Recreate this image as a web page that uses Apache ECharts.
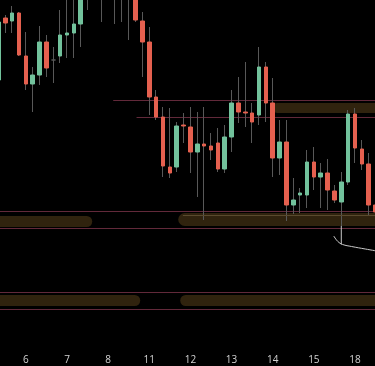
<!DOCTYPE html>
<html><head><meta charset="utf-8">
<script src="https://cdn.jsdelivr.net/npm/echarts@6/dist/echarts.min.js"></script>
<style>html,body{margin:0;padding:0;background:#000;overflow:hidden;width:375px;height:366px;position:relative;}
#c{position:absolute;left:-5px;top:0;width:384px;height:366px;}</style>
</head><body><div id="c"></div>
<script>
// 4-hour candles, categories "day hh:00"
const categories = [
 '5 08:00','5 12:00','5 16:00','5 20:00',
 '6 00:00','6 04:00','6 08:00','6 12:00','6 16:00','6 20:00',
 '7 00:00','7 04:00','7 08:00','7 12:00','7 16:00','7 20:00',
 '8 00:00','8 04:00','8 08:00','8 12:00','8 16:00','8 20:00',
 '11 00:00','11 04:00','11 08:00','11 12:00','11 16:00','11 20:00',
 '12 00:00','12 04:00','12 08:00','12 12:00','12 16:00','12 20:00',
 '13 00:00','13 04:00','13 08:00','13 12:00','13 16:00','13 20:00',
 '14 00:00','14 04:00','14 08:00','14 12:00','14 16:00','14 20:00',
 '15 00:00','15 04:00','15 08:00','15 12:00','15 16:00','15 20:00',
 '18 00:00','18 04:00','18 08:00','18 12:00'
];
const openP  = [1.0920,1.0982,1.0979,1.0987,1.0944,1.0916,1.0925,1.0958,1.0940,1.0944,
                1.0965,1.0967,1.0976,1.1030,1.1040,1.1025,1.1030,1.1020,1.1015,1.1020,
                1.1005,1.0979,1.0958,1.0903,1.0883,1.0833,1.0833,1.0875,1.0873,1.0848,
                1.0856,1.0854,1.0857,1.0831,1.0863,1.0897,1.0888,1.0887,1.0885,1.0933,
                1.0897,1.0842,1.0858,1.0795,1.0805,1.0805,1.0838,1.0823,1.0827,1.0809,
                1.0798,1.0818,1.0886,1.0851,1.0836,1.0795];
const closeP = [1.0978,1.0977,1.0987,1.0945,1.0916,1.0925,1.0958,1.0932,1.0940,1.0965,
                1.0967,1.0976,1.1020,1.1015,1.1025,1.1010,1.1015,1.1005,1.1005,1.1003,
                1.0980,1.0958,1.0903,1.0883,1.0834,1.0827,1.0874,1.0874,1.0848,1.0856,
                1.0854,1.0850,1.0831,1.0863,1.0897,1.0888,1.0887,1.0878,1.0933,1.0897,
                1.0842,1.0858,1.0795,1.0800,1.0807,1.0838,1.0823,1.0827,1.0810,1.0800,
                1.0818,1.0886,1.0852,1.0836,1.0795,1.0788];
const lowP   = [1.0915,1.0967,1.0967,1.0944,1.0910,1.0888,1.0915,1.0923,1.0917,1.0937,
                1.0942,1.0942,1.0953,1.0990,1.1005,1.0978,1.1003,1.0976,1.0978,1.0960,
                1.0978,1.0923,1.0885,1.0880,1.0823,1.0822,1.0828,1.0857,1.0827,1.0803,
                1.0780,1.0840,1.0828,1.0827,1.0848,1.0877,1.0873,1.0857,1.0875,1.0878,
                1.0823,1.0825,1.0779,1.0786,1.0787,1.0792,1.0810,1.0792,1.0790,1.0797,
                1.0774,1.0815,1.0837,1.0830,1.0784,1.0784];
const highP  = [1.0985,1.0985,1.0994,1.0988,1.0968,1.0933,1.0974,1.0965,1.0953,1.0990,
                1.1005,1.1005,1.1030,1.1040,1.1050,1.1035,1.1040,1.1030,1.1025,1.1030,
                1.1015,1.0988,1.0973,1.0910,1.0893,1.0892,1.0878,1.0887,1.0893,1.0888,
                1.0893,1.0867,1.0872,1.0875,1.0910,1.0923,1.0938,1.0897,1.0953,1.0938,
                1.0922,1.0880,1.0880,1.0822,1.0812,1.0850,1.0853,1.0837,1.0841,1.0815,
                1.0828,1.0890,1.0892,1.0860,1.0847,1.0800];

// horizontal levels: [startIndex, endIndex, price]
const levelStart = [-5, -5, -5, -5, 16.74, 20.14];
const levelEnd   = [60, 60, 60, 60, 60, 60];
const levelPrice = [1.0789, 1.0772, 1.0708, 1.0691, 1.0900, 1.0883];
// zones: [startIndex, endIndex, top price, bottom price]
const zoneStart  = [39.92, -5, 26.22, -5, 26.51];
const zoneEnd    = [60, 13.68, 60, 20.68, 60];
const zoneTop    = [1.0897, 1.0784, 1.0787, 1.0705, 1.0705];
const zoneBottom = [1.0887, 1.0773, 1.0774, 1.0694, 1.0694];
// highlighted edge inside the right-hand lower zone
const edgeX = [26.9, 60];
const edgeY = [1.07845, 1.07845];
// projection path
const pathX = [48.9, 49.5, 50.2, 51.5, 53.5, 55.6];
const pathY = [1.0764, 1.07585, 1.07555, 1.07535, 1.0751, 1.07485];
const stemX = [50, 50];
const stemY = [1.0774, 1.07555];

const candleData = categories.map((_, i) => [openP[i], closeP[i], lowP[i], highP[i]]);
const bodyData = categories.map((_, i) => [openP[i], closeP[i], Math.min(openP[i], closeP[i]), Math.max(openP[i], closeP[i])]);
const zoneData = zoneStart.map((s, i) => [s, zoneEnd[i], zoneTop[i], zoneBottom[i]]);
const levelData = levelStart.map((s, i) => [s, levelEnd[i], levelPrice[i]]);

const GREEN = '#72c29c', RED = '#e5604f', WICK = '#585858';
const N = categories.length;

const chart = echarts.init(document.getElementById('c'), null, {renderer: 'canvas'});
chart.setOption({
  animation: false,
  backgroundColor: '#000',
  grid: {left: 0, right: 0, top: 0, bottom: 20},
  xAxis: [
    {type: 'category', data: categories, boundaryGap: true,
     axisLine: {show: false}, axisTick: {show: false}, splitLine: {show: false},
     axisLabel: {color: '#d2d2d2', fontSize: 10, fontFamily: 'Open Sans', margin: 9,
       interval: (idx) => idx % 6 === 4,
       formatter: (v) => v.split(' ')[0]}},
    {type: 'value', min: -0.5, max: N - 0.5, show: false}
  ],
  yAxis: {type: 'value', min: 1.0654, max: 1.1000, show: false, splitLine: {show: false}},
  series: [
    {type: 'custom', xAxisIndex: 1, clip: true, data: zoneData,
     encode: {x: [0, 1], y: [2, 3]},
     renderItem: (params, api) => {
       const p1 = api.coord([api.value(0), api.value(2)]);
       const p2 = api.coord([api.value(1), api.value(3)]);
       const h = p2[1] - p1[1];
       return {type: 'rect', shape: {x: p1[0], y: p1[1], width: p2[0] - p1[0], height: h, r: h / 2},
               style: {fill: '#30230e'}};
     }},
    {type: 'custom', xAxisIndex: 1, clip: true, data: levelData,
     encode: {x: [0, 1], y: 2},
     renderItem: (params, api) => {
       const p1 = api.coord([api.value(0), api.value(2)]);
       const p2 = api.coord([api.value(1), api.value(2)]);
       const y = Math.round(p1[1]) + 0.5;
       return {type: 'line', shape: {x1: p1[0], y1: y, x2: p2[0], y2: y},
               style: {stroke: '#62293a', lineWidth: 1}};
     }},
    {type: 'line', xAxisIndex: 1, data: edgeX.map((x, i) => [x, edgeY[i]]), showSymbol: false,
     lineStyle: {color: '#5a4a2e', width: 1}},
    {type: 'candlestick', xAxisIndex: 0, data: candleData, barWidth: 1,
     itemStyle: {color: WICK, color0: WICK, borderColor: WICK, borderColor0: WICK, borderColorDoji: WICK, borderWidth: 1}},
    {type: 'candlestick', xAxisIndex: 0, data: bodyData, barWidth: 4,
     itemStyle: {color: GREEN, color0: RED, borderColor: GREEN, borderColor0: RED, borderColorDoji: WICK, borderWidth: 1}},
    {type: 'line', xAxisIndex: 1, data: stemX.map((x, i) => [x, stemY[i]]), showSymbol: false,
     lineStyle: {color: '#c8c8c8', width: 1}},
    {type: 'line', xAxisIndex: 1, data: pathX.map((x, i) => [x, pathY[i]]), showSymbol: false, smooth: 0.4,
     lineStyle: {color: '#c8c8c8', width: 1}}
  ]
});
</script></body></html>
